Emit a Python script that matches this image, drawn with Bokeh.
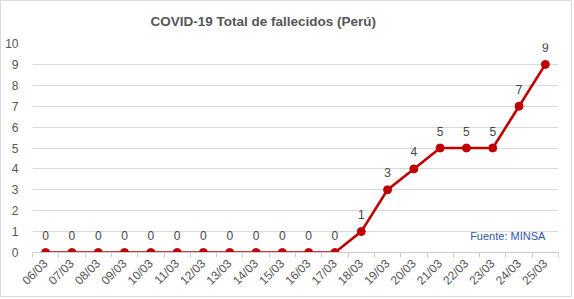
from bokeh.plotting import figure
from bokeh.models import FixedTicker, Label, ColumnDataSource, Range1d
from bokeh.embed import file_html
from bokeh.resources import INLINE
from bokeh.core.properties import value
import math

dates = ["06/03", "07/03", "08/03", "09/03", "10/03", "11/03", "12/03", "13/03", "14/03",
         "15/03", "16/03", "17/03", "18/03", "19/03", "20/03", "21/03", "22/03", "23/03",
         "24/03", "25/03"]
deaths = [0, 0, 0, 0, 0, 0, 0, 0, 0, 0, 0, 0, 1, 3, 4, 5, 5, 5, 7, 9]
y_ticks = list(range(0, 11))
title_text = "COVID-19 Total de fallecidos (Perú)"

xs = list(range(len(dates)))
src = ColumnDataSource(dict(x=xs, y=deaths, lab=[str(v) for v in deaths]))

p = figure(width=572, height=297, output_backend="svg", toolbar_location=None,
           x_range=Range1d(-0.5, len(dates) - 0.5), y_range=Range1d(0, 10),
           min_border_left=31, min_border_right=15, min_border_top=42, min_border_bottom=46)
p.styles = {"border": "1px solid #d9d9d9"}
p.outline_line_color = None
p.background_fill_color = "white"
p.border_fill_color = "white"

p.title.text = title_text
p.title.text_font = "Liberation Sans"
p.title.text_font_size = "13.5px"
p.title.text_font_style = "bold"
p.title.text_color = "#555555"
p.title.align = "left"
p.title.offset = 118
p.title.vertical_align = "top"
p.title.standoff = 25

p.line("x", "y", source=src, line_color="#c00000", line_width=2.6)
p.scatter("x", "y", source=src, size=8, fill_color="#c00000", line_color="#c00000")
p.text("x", "y", text="lab", source=src, y_offset=-17, text_align="center",
       text_baseline="middle", text_font=value("Liberation Sans"), text_font_size="12px",
       text_color="#444444")

# x axis
p.xaxis.ticker = FixedTicker(ticks=xs, minor_ticks=[i - 0.5 for i in range(len(dates) + 1)])
p.xaxis.major_label_overrides = {i: d for i, d in enumerate(dates)}
p.xaxis.major_label_orientation = math.pi / 4
p.xaxis.major_label_text_font = "Liberation Sans"
p.xaxis.major_label_text_font_size = "12px"
p.xaxis.major_label_text_color = "#555555"
p.xaxis.major_tick_line_color = None
p.xaxis.minor_tick_line_color = "#cccccc"
p.xaxis.minor_tick_out = 5
p.xaxis.minor_tick_in = 0
p.xaxis.axis_line_color = "#cccccc"
p.xaxis.major_label_standoff = 3

# y axis
p.yaxis.ticker = FixedTicker(ticks=y_ticks)
p.yaxis.major_label_text_font = "Liberation Sans"
p.yaxis.major_label_text_font_size = "12px"
p.yaxis.major_label_text_color = "#555555"
p.yaxis.axis_line_color = None
p.yaxis.major_tick_line_color = None
p.yaxis.minor_tick_line_color = None
p.yaxis.major_label_standoff = 8

p.xgrid.grid_line_color = None
p.ygrid.grid_line_color = "#d9d9d9"
p.ygrid.ticker = FixedTicker(ticks=y_ticks)

p.add_layout(Label(x=19, y=0.78, text="Fuente: MINSA", text_align="right",
                   text_baseline="middle", text_font="Liberation Sans",
                   text_font_size="11px", text_color="#3355aa"))

open("out.html", "w").write(file_html(p, INLINE))
